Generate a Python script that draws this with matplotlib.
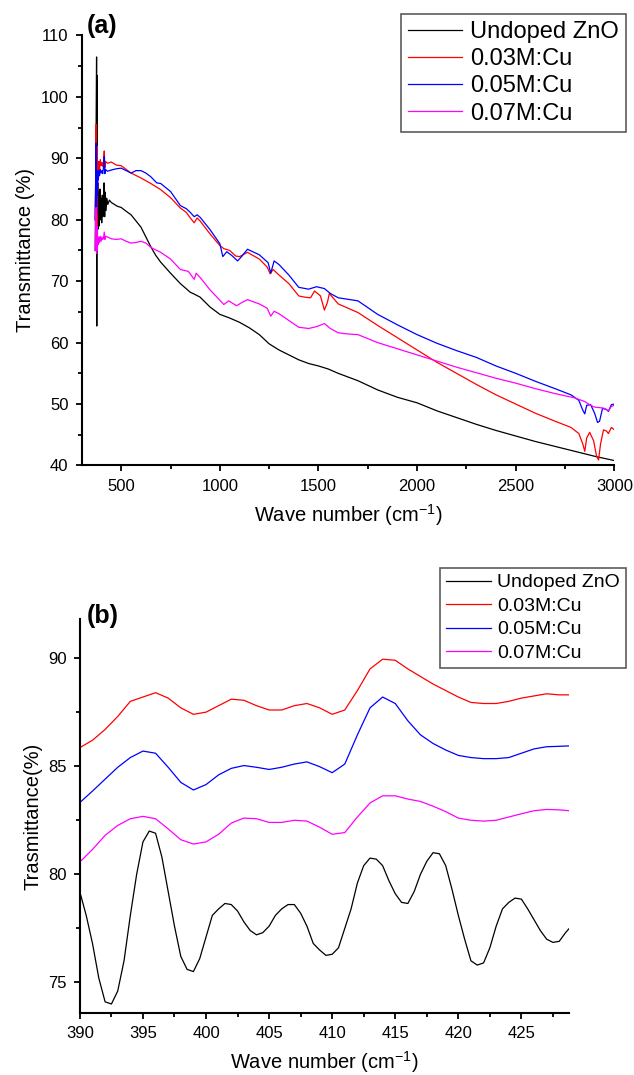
import matplotlib
matplotlib.use('Agg')
import matplotlib.pyplot as plt
from matplotlib.ticker import MultipleLocator

plt.rcParams['font.family'] = ['Liberation Sans', 'DejaVu Sans']

labels = ['Undoped ZnO', '0.03M:Cu', '0.05M:Cu', '0.07M:Cu']
colors = ['black', '#ff0000', '#0000ff', '#ff00ff']

# ---- panel (a): full FTIR spectra ----
x_undoped = [368, 371, 373, 375, 376, 377, 379, 381, 383, 386, 389, 392, 395, 398, 401, 404, 407,
             410, 413, 416, 419, 423, 427, 432, 440, 450, 465, 480, 500, 520, 550, 575, 600, 625,
             650, 675, 700, 750, 800, 850, 870, 900, 950, 1000, 1050, 1100, 1150, 1200, 1250,
             1300, 1350, 1400, 1450, 1500, 1550, 1600, 1700, 1800, 1900, 2000, 2100, 2200, 2300,
             2400, 2500, 2600, 2700, 2800, 2900, 3000]
t_undoped = [75, 88, 97, 106.5, 62.7, 103.5, 75.5, 86, 78.5, 84.5, 79, 85, 80, 83.5, 79.5, 84, 80.5,
             83, 86, 80.5, 84.5, 81.5, 83.5, 82.5, 83.2, 82.8, 82.5, 82.2, 82, 81.5, 80.8, 79.8, 78.8,
             77.2, 75.6, 74.2, 73.1, 71.3, 69.6, 68.2, 67.9, 67.4, 65.8, 64.6, 64.0, 63.3, 62.4, 61.3,
             59.8, 58.8, 58.0, 57.2, 56.6, 56.2, 55.7, 55.0, 53.8, 52.3, 51.1, 50.2, 48.9, 47.8, 46.7,
             45.7, 44.8, 43.9, 43.1, 42.3, 41.5, 40.8]

x_cu03 = [368, 371, 373, 375, 377, 379, 381, 384, 387, 390, 394, 398, 402, 406, 410, 414, 417, 420,
          430, 450, 475, 500, 525, 550, 600, 650, 700, 750, 800, 830, 850, 870, 885, 900, 950, 1000,
          1020, 1050, 1080, 1100, 1140, 1200, 1240, 1255, 1270, 1300, 1350, 1400, 1430, 1460, 1480,
          1510, 1530, 1545, 1555, 1600, 1700, 1800, 1900, 2000, 2100, 2200, 2300, 2400, 2500, 2600,
          2700, 2780, 2820, 2840, 2850, 2860, 2875, 2895, 2910, 2920, 2930, 2945, 2960, 2970, 2985,
          3000]
t_cu03 = [80, 89, 95.5, 84, 92, 78.5, 88, 87, 89.5, 88.2, 89.8, 88.8, 89.3, 88.7, 89.5, 91.2, 88.5,
          89.5, 89.2, 89.4, 88.9, 88.8, 88.2, 87.6, 86.8, 85.9, 84.9, 83.6, 81.9, 81.2, 80.3, 79.5,
          80.3, 79.8, 77.7, 75.8, 75.3, 75.0, 74.1, 74.0, 74.7, 73.6, 72.3, 71.2, 71.9, 71.0, 69.6,
          67.6, 67.4, 67.3, 68.4, 67.6, 65.3, 66.5, 68.0, 66.3, 64.9, 62.8, 60.8, 58.8, 56.8, 55.0,
          53.2, 51.5, 50.0, 48.5, 47.2, 46.2, 45.2, 43.5, 42.3, 44.5, 45.4, 44.0, 41.5, 40.9, 43.5,
          45.8, 45.6, 45.2, 46.2, 45.8]

x_cu05 = [368, 371, 373, 375, 377, 379, 381, 384, 387, 390, 394, 398, 402, 406, 410, 414, 417, 420,
          430, 450, 475, 500, 525, 550, 575, 600, 625, 650, 680, 700, 750, 800, 830, 850, 870, 885,
          900, 950, 1000, 1015, 1035, 1060, 1090, 1110, 1140, 1200, 1245, 1258, 1275, 1300, 1350,
          1400, 1450, 1490, 1530, 1560, 1600, 1700, 1800, 1900, 2000, 2100, 2200, 2300, 2400, 2500,
          2600, 2700, 2780, 2820, 2840, 2850, 2860, 2880, 2900, 2915, 2925, 2940, 2960, 2970, 2985,
          3000]
t_cu05 = [80, 88, 92.5, 81, 88, 84, 87, 86.5, 88, 87.2, 88.2, 87.6, 88, 87.5, 88.5, 90.3, 87.5, 88.2,
          87.9, 88.1, 88.3, 88.4, 88.0, 87.6, 88.0, 88.0, 87.6, 87.0, 86.0, 85.9, 84.6, 82.3, 81.8,
          81.2, 80.5, 80.8, 80.4, 78.4, 76.1, 74.0, 74.8, 74.2, 73.3, 74.0, 75.2, 74.3, 73.0, 71.3,
          73.3, 72.7, 71.0, 69.0, 68.7, 69.1, 68.8, 68.0, 67.3, 66.8, 64.6, 62.9, 61.3, 59.9, 58.7,
          57.6, 56.2, 55.0, 53.7, 52.5, 51.5, 50.6, 49.0, 48.4, 49.8, 49.9, 48.5, 47.0, 47.2, 49.3,
          49.1, 48.8, 49.9, 50.0]

x_cu07 = [368, 371, 373, 375, 377, 379, 381, 384, 387, 390, 394, 398, 402, 406, 410, 414, 417, 420,
          430, 450, 475, 500, 525, 550, 575, 600, 625, 650, 700, 750, 800, 840, 870, 880, 900, 950,
          1000, 1020, 1045, 1085, 1110, 1140, 1200, 1240, 1258, 1275, 1300, 1350, 1400, 1450, 1490,
          1530, 1560, 1600, 1650, 1700, 1800, 1900, 2000, 2100, 2200, 2300, 2400, 2500, 2600, 2700,
          2800, 2850, 2880, 2900, 2930, 2950, 2970, 2985, 3000]
t_cu07 = [75, 80, 82, 74.5, 79, 75, 76.5, 76, 77.2, 76.3, 77.3, 76.5, 77.2, 76.8, 77, 78, 76.8, 77.3,
          77.2, 76.9, 76.8, 76.9, 76.5, 76.2, 76.3, 76.5, 76.2, 75.5, 74.7, 73.6, 71.9, 71.6, 70.3,
          71.3, 70.6, 68.6, 66.9, 66.2, 66.8, 66.0, 66.5, 67.0, 66.3, 65.6, 64.3, 65.1, 64.7, 63.6,
          62.5, 62.3, 62.6, 63.1, 62.3, 61.6, 61.4, 61.3, 60.0, 59.0, 58.0, 57.0, 56.0, 55.1, 54.2,
          53.4, 52.5, 51.7, 51.0, 50.4, 49.8, 49.5, 49.4, 49.3, 48.9, 49.6, 49.8]

# ---- panel (b): zoom 390-429 cm-1 ----
xb_undoped = [390, 390.5, 391, 391.5, 392, 392.5, 393, 393.5, 394, 394.5, 395, 395.5, 396, 396.5,
              397, 397.5, 398, 398.5, 399, 399.5, 400, 400.5, 401, 401.5, 402, 402.5, 403, 403.5,
              404, 404.5, 405, 405.5, 406, 406.5, 407, 407.5, 408, 408.5, 409, 409.5, 410, 410.5,
              411, 411.5, 412, 412.5, 413, 413.5, 414, 414.5, 415, 415.5, 416, 416.5, 417, 417.5,
              418, 418.5, 419, 419.5, 420, 420.5, 421, 421.5, 422, 422.5, 423, 423.5, 424, 424.5,
              425, 425.5, 426, 426.5, 427, 427.5, 428, 428.5, 428.8]
tb_undoped = [79.18, 78.1, 76.8, 75.2, 74.1, 74.0, 74.6, 76.0, 78.1, 80.0, 81.5, 82.0, 81.9, 80.8,
              79.2, 77.6, 76.2, 75.6, 75.5, 76.1, 77.1, 78.1, 78.4, 78.65, 78.6, 78.3, 77.8, 77.4,
              77.2, 77.3, 77.6, 78.1, 78.4, 78.6, 78.6, 78.2, 77.6, 76.8, 76.5, 76.25, 76.3, 76.6,
              77.5, 78.4, 79.6, 80.4, 80.75, 80.7, 80.4, 79.7, 79.1, 78.7, 78.65, 79.2, 80.0, 80.6,
              81.0, 80.95, 80.4, 79.3, 78.1, 77.0, 76.0, 75.8, 75.9, 76.6, 77.6, 78.4, 78.7, 78.9,
              78.85, 78.4, 77.9, 77.4, 77.0, 76.85, 76.9, 77.3, 77.5]

xb = [390, 391, 392, 393, 394, 395, 396, 397, 398, 399, 400, 401, 402, 403, 404, 405, 406, 407,
      408, 409, 410, 411, 412, 413, 414, 415, 416, 417, 418, 419, 420, 421, 422, 423, 424, 425,
      426, 427, 428, 428.8]
tb_cu03 = [85.86, 86.2, 86.7, 87.3, 88.0, 88.2, 88.4, 88.15, 87.7, 87.4, 87.5, 87.8, 88.1, 88.05,
           87.8, 87.6, 87.6, 87.8, 87.9, 87.7, 87.4, 87.6, 88.5, 89.5, 89.95, 89.9, 89.5, 89.15,
           88.8, 88.5, 88.2, 87.95, 87.9, 87.9, 88.0, 88.15, 88.25, 88.35, 88.3, 88.3]
tb_cu05 = [83.32, 83.85, 84.4, 84.95, 85.4, 85.7, 85.6, 84.95, 84.25, 83.9, 84.15, 84.6, 84.9, 85.03,
           84.95, 84.85, 84.95, 85.1, 85.2, 84.98, 84.7, 85.1, 86.45, 87.7, 88.2, 87.9, 87.1, 86.45,
           86.05, 85.75, 85.5, 85.4, 85.35, 85.35, 85.4, 85.6, 85.8, 85.9, 85.92, 85.94]
tb_cu07 = [80.57, 81.15, 81.8, 82.26, 82.57, 82.68, 82.57, 82.1, 81.6, 81.4, 81.5, 81.85, 82.37,
           82.6, 82.57, 82.4, 82.4, 82.5, 82.46, 82.18, 81.85, 81.93, 82.65, 83.3, 83.63, 83.63,
           83.48, 83.37, 83.15, 82.9, 82.6, 82.5, 82.46, 82.5, 82.65, 82.8, 82.94, 83.0, 82.98,
           82.94]

fig = plt.figure(figsize=(6.34, 10.75), dpi=100)
ax1 = fig.add_axes([0.129, 0.567, 0.840, 0.400])
ax2 = fig.add_axes([0.126, 0.058, 0.772, 0.366])

series_a = [(x_undoped, t_undoped), (x_cu03, t_cu03), (x_cu05, t_cu05), (x_cu07, t_cu07)]
for (xs, ys), c, lab in zip(series_a, colors, labels):
    ax1.plot(xs, ys, color=c, lw=0.9, label=lab)

series_b = [(xb_undoped, tb_undoped), (xb, tb_cu03), (xb, tb_cu05), (xb, tb_cu07)]
for (xs, ys), c, lab in zip(series_b, colors, labels):
    ax2.plot(xs, ys, color=c, lw=0.9, label=lab)

ax1.set_xlim(300, 3000)
ax1.set_ylim(40, 110)
ax1.xaxis.set_major_locator(MultipleLocator(500))
ax1.xaxis.set_minor_locator(MultipleLocator(250))
ax1.yaxis.set_major_locator(MultipleLocator(10))
ax1.yaxis.set_minor_locator(MultipleLocator(5))
ax1.set_ylabel('Transmittance (%)', fontsize=14.5)

ax2.set_xlim(390, 428.8)
ax2.set_ylim(73.6, 91.8)
ax2.xaxis.set_major_locator(MultipleLocator(5))
ax2.xaxis.set_minor_locator(MultipleLocator(2.5))
ax2.yaxis.set_major_locator(MultipleLocator(5))
ax2.yaxis.set_minor_locator(MultipleLocator(2.5))
ax2.set_ylabel('Trasmittance(%)', fontsize=14.5)

for ax in (ax1, ax2):
    ax.spines['top'].set_visible(False)
    ax.spines['right'].set_visible(False)
    ax.spines['left'].set_linewidth(1.5)
    ax.spines['bottom'].set_linewidth(1.5)
    ax.tick_params(which='major', direction='out', length=4.5, width=1.3, labelsize=12, pad=5)
    ax.tick_params(which='minor', direction='out', length=3, width=1.3)
    ax.set_xlabel('Wave number (cm$^{\\mathregular{-1}}$)', fontsize=14.5, labelpad=6)

leg1 = ax1.legend(loc='upper right', bbox_to_anchor=(626 / 634, 1 - 14 / 1075),
                  bbox_transform=fig.transFigure, fontsize=17, frameon=True, fancybox=False,
                  handlelength=2.3, handletextpad=0.35, labelspacing=0.22, borderpad=0.3,
                  borderaxespad=0)
leg1.get_frame().set_edgecolor('#333333')
leg1.get_frame().set_linewidth(1.2)

leg2 = ax2.legend(loc='upper right', bbox_to_anchor=(626 / 634, 1 - 568 / 1075),
                  bbox_transform=fig.transFigure, fontsize=14, frameon=True, fancybox=False,
                  handlelength=2.3, handletextpad=0.35, labelspacing=0.3, borderpad=0.3,
                  borderaxespad=0)
leg2.get_frame().set_edgecolor('#333333')
leg2.get_frame().set_linewidth(1.2)

fig.text(87 / 634, 1 - 26 / 1075, '(a)', fontsize=18, fontweight='bold', va='center', ha='left')
fig.text(87 / 634, 1 - 616 / 1075, '(b)', fontsize=18, fontweight='bold', va='center', ha='left')

fig.savefig('out.png', dpi=100)
